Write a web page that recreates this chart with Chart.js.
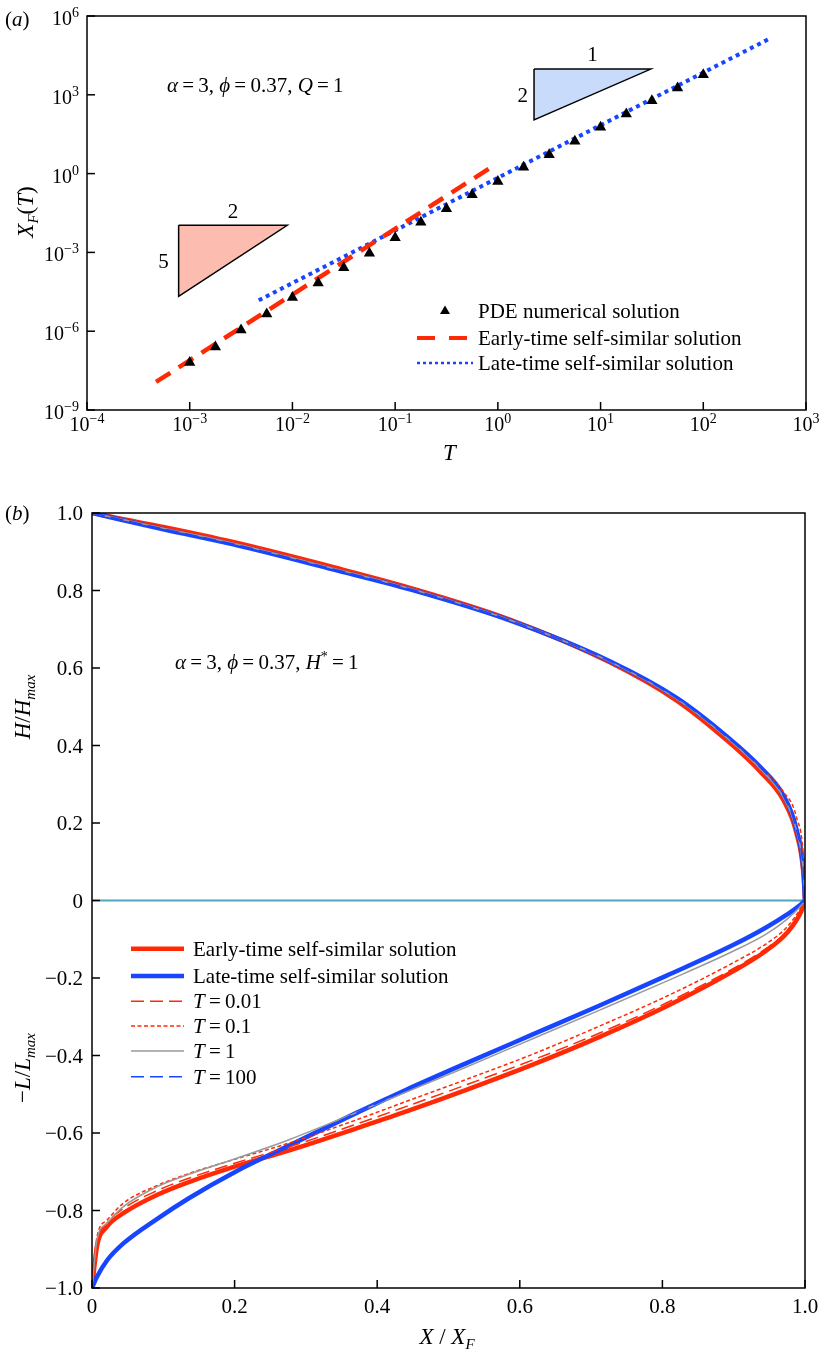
<!DOCTYPE html>
<html>
<head>
<meta charset="utf-8">
<script src="https://cdn.jsdelivr.net/npm/chart.js@4.4.1/dist/chart.umd.min.js"></script>
<style>
  html, body { margin: 0; padding: 0; background: #fff; }
  #wrap { position: relative; width: 819px; height: 1352px; }
  canvas { position: absolute; left: 0; }
  #ca { top: 0; width: 819px; height: 470px; }
  #cb { top: 470px; width: 819px; height: 882px; }
</style>
</head>
<body>
<div id="wrap">
  <canvas id="ca" width="819" height="470"></canvas>
  <canvas id="cb" width="819" height="882"></canvas>
</div>
<script>
// ---- panel (a) data: front position X_F against time T ----
const pdeT = [1e-3, 1.78e-3, 3.16e-3, 5.62e-3, 1e-2, 1.78e-2, 3.16e-2, 5.62e-2, 0.1, 0.178, 0.316,
  0.562, 1, 1.78, 3.16, 5.62, 10, 17.8, 31.6, 56.2, 100];
const pdeXF = [6.5e-8, 2.5e-7, 1.1e-6, 4.5e-6, 1.9e-5, 6.9e-5, 2.6e-4, 9.3e-4, 3.6e-3, 1.4e-2, 4.6e-2,
  0.155, 0.5, 1.74, 5.2, 17, 58, 186, 590, 1820, 5750];
const earlyT = [4.7e-4, 0.85];
const earlyXF = [1.17e-8, 1.69];
const lateT = [4.7e-3, 430];
const lateXF = [1.5e-5, 1.3e5];
// slope triangles (corners in data units)
const slopeRedT = [7.8e-4, 8.9e-3, 7.8e-4, 7.8e-4];
const slopeRedXF = [1.07e-2, 1.07e-2, 2.1e-5, 1.07e-2];
const slopeBlueT = [2.25, 30.8, 2.25, 2.25];
const slopeBlueXF = [9.5e3, 9.5e3, 110, 9.5e3];
const aTickExpX = [-4, -3, -2, -1, 0, 1, 2, 3];
const aTickExpY = [-9, -6, -3, 0, 3, 6];

// ---- panel (b) data: profiles H/Hmax (upper) and -L/Lmax (lower) ----
const upX = [0, 0.1, 0.198, 0.339, 0.446, 0.586, 0.727, 0.82, 0.89, 0.937, 0.97, 0.988, 0.998, 1];
const upEarly = [1, 0.964, 0.925, 0.86, 0.807, 0.725, 0.614, 0.516, 0.414, 0.333, 0.258, 0.174, 0.066, 0];
const upLate = [1, 0.958, 0.919, 0.854, 0.803, 0.723, 0.617, 0.523, 0.424, 0.345, 0.27, 0.184, 0.073, 0];
const upT001 = [1, 0.962, 0.923, 0.858, 0.806, 0.724, 0.615, 0.518, 0.416, 0.336, 0.262, 0.177, 0.068, 0];
const upT01 = [1, 0.961, 0.922, 0.857, 0.805, 0.724, 0.615, 0.519, 0.42, 0.343, 0.28, 0.215, 0.1, 0];
const upT1 = [1, 0.961, 0.922, 0.857, 0.805, 0.724, 0.616, 0.52, 0.42, 0.34, 0.265, 0.18, 0.07, 0];
const upT100 = [1, 0.959, 0.92, 0.855, 0.804, 0.723, 0.617, 0.522, 0.423, 0.344, 0.269, 0.183, 0.072, 0];

const lowX = [0, 0.007, 0.021, 0.044, 0.091, 0.137, 0.2, 0.278, 0.371, 0.44, 0.526, 0.619, 0.712, 0.806, 0.899, 0.946, 0.975, 0.995, 1];
const lowEarly = [-1, -0.893, -0.842, -0.807, -0.76, -0.726, -0.687, -0.644, -0.588, -0.545, -0.488, -0.423, -0.352, -0.273, -0.183, -0.129, -0.083, -0.027, 0];
const lowLate = [-1, -0.971, -0.929, -0.885, -0.822, -0.767, -0.701, -0.631, -0.548, -0.489, -0.419, -0.345, -0.271, -0.194, -0.115, -0.069, -0.036, -0.009, 0];
const lowT001 = [-1, -0.885, -0.833, -0.795, -0.749, -0.716, -0.678, -0.635, -0.577, -0.532, -0.475, -0.411, -0.342, -0.264, -0.176, -0.123, -0.078, -0.022, 0];
const lowT01 = [-1, -0.868, -0.825, -0.781, -0.736, -0.704, -0.668, -0.625, -0.566, -0.519, -0.461, -0.396, -0.324, -0.247, -0.161, -0.111, -0.068, -0.017, 0];
const lowT1 = [-1, -0.876, -0.833, -0.79, -0.739, -0.706, -0.667, -0.616, -0.547, -0.495, -0.429, -0.356, -0.283, -0.208, -0.131, -0.086, -0.048, -0.012, 0];
const lowT100 = [-1, -0.971, -0.929, -0.885, -0.822, -0.767, -0.701, -0.631, -0.548, -0.489, -0.419, -0.345, -0.271, -0.194, -0.115, -0.069, -0.036, -0.009, 0];
const zeroX = [0, 1];
const zeroY = [0, 0];
const bTickX = [0, 0.2, 0.4, 0.6, 0.8, 1.0];
const bTickY = [1.0, 0.8, 0.6, 0.4, 0.2, 0, -0.2, -0.4, -0.6, -0.8, -1.0];

const RED = "#ff2a05";
const BLUE = "#1846ff";
const GREY = "#9a9a9a";
const SERIF = '"Liberation Serif", "DejaVu Serif", serif';
const R = (s) => `${s}px ${SERIF}`;
const I = (s) => `italic ${s}px ${SERIF}`;
const EQ = "\u2009=\u2009";

const zip = (xs, ys) => xs.map((x, i) => ({ x, y: ys[i] }));

// draw a row of text pieces [text, font, dy]
function runs(ctx, parts, x, y, align) {
  let w = 0;
  parts.forEach((p) => { ctx.font = p[1]; w += ctx.measureText(p[0]).width; });
  let cx = align === "center" ? x - w / 2 : align === "right" ? x - w : x;
  ctx.textAlign = "left";
  ctx.textBaseline = "alphabetic";
  parts.forEach((p) => {
    ctx.font = p[1];
    ctx.fillText(p[0], cx, y + (p[2] || 0));
    cx += ctx.measureText(p[0]).width;
  });
}

function vruns(ctx, parts, x, y) {
  ctx.save();
  ctx.translate(x, y);
  ctx.rotate(-Math.PI / 2);
  runs(ctx, parts, 0, 0, "center");
  ctx.restore();
}

function seg(ctx, x1, y1, x2, y2) {
  ctx.beginPath();
  ctx.moveTo(x1, y1);
  ctx.lineTo(x2, y2);
  ctx.stroke();
}

const pow10 = (e) => [["10", R(20)], [e < 0 ? "\u2212" + Math.abs(e) : String(e), R(14), -8]];
const dec = (v) => (v === 0 ? "0" : (v < 0 ? "\u2212" : "") + Math.abs(v).toFixed(1));

const frameA = {
  id: "frameA",
  afterDraw(chart) {
    const { ctx, chartArea: ca, scales } = chart;
    const x = scales.x, y = scales.y;
    ctx.save();
    ctx.fillStyle = "#000";
    ctx.strokeStyle = "#000";
    ctx.lineWidth = 1.5;
    ctx.strokeRect(ca.left, ca.top, ca.right - ca.left, ca.bottom - ca.top);
    aTickExpX.forEach((e) => {
      const px = x.getPixelForValue(Math.pow(10, e));
      seg(ctx, px, ca.bottom, px, ca.bottom - 8);
      runs(ctx, pow10(e), px, ca.bottom + 21, "center");
    });
    aTickExpY.forEach((e) => {
      const py = y.getPixelForValue(Math.pow(10, e));
      seg(ctx, ca.left, py, ca.left + 8, py);
      runs(ctx, pow10(e), ca.left - 8, py + 9, "right");
    });

    // slope triangle labels
    const rx = x.getPixelForValue(Math.sqrt(slopeRedT[0] * slopeRedT[1]));
    const ry = y.getPixelForValue(slopeRedXF[0]);
    runs(ctx, [["2", R(21)]], rx, ry - 7, "center");
    const rl = x.getPixelForValue(slopeRedT[0]);
    const rm = y.getPixelForValue(Math.sqrt(slopeRedXF[0] * slopeRedXF[2]));
    runs(ctx, [["5", R(21)]], rl - 10, rm + 7, "right");
    const bx = x.getPixelForValue(Math.sqrt(slopeBlueT[0] * slopeBlueT[1]));
    const by = y.getPixelForValue(slopeBlueXF[0]);
    runs(ctx, [["1", R(21)]], bx, by - 8, "center");
    const bl = x.getPixelForValue(slopeBlueT[0]);
    const bm = y.getPixelForValue(Math.sqrt(slopeBlueXF[0] * slopeBlueXF[2]));
    runs(ctx, [["2", R(21)]], bl - 6, bm + 7, "right");

    runs(ctx, [["\u03b1", I(21)], [EQ + "3, ", R(21)], ["\u03d5", I(21)], [EQ + "0.37, ", R(21)],
      ["Q", I(21)], [EQ + "1", R(21)]], 167, 92, "left");

    // legend
    ctx.beginPath();
    ctx.moveTo(445, 305.5);
    ctx.lineTo(450, 314);
    ctx.lineTo(440, 314);
    ctx.closePath();
    ctx.fill();
    runs(ctx, [["PDE numerical solution", R(21)]], 478, 318, "left");
    ctx.lineWidth = 4;
    ctx.strokeStyle = RED;
    ctx.setLineDash([18, 14]);
    seg(ctx, 417, 338, 467, 338);
    runs(ctx, [["Early-time self-similar solution", R(21)]], 478, 345, "left");
    ctx.strokeStyle = BLUE;
    ctx.lineWidth = 2.5;
    ctx.setLineDash([3, 3]);
    seg(ctx, 417, 363, 473, 363);
    ctx.setLineDash([]);
    runs(ctx, [["Late-time self-similar solution", R(21)]], 478, 370, "left");

    runs(ctx, [["(", R(21)], ["a", I(21)], [")", R(21)]], 5, 26, "left");
    runs(ctx, [["T", I(23)]], (ca.left + ca.right) / 2 + 3, 460, "center");
    vruns(ctx, [["X", I(23)], ["F", I(15), 5], ["(", R(23)], ["T", I(23)], [")", R(23)]], 33, 212);
    ctx.restore();
  }
};

new Chart(document.getElementById("ca"), {
  type: "line",
  data: {
    datasets: [
      {
        data: zip(pdeT, pdeXF), showLine: false, pointStyle: "triangle", pointRadius: 6.5,
        backgroundColor: "#000", borderColor: "#000", pointBorderWidth: 0, order: 1
      },
      {
        data: zip(earlyT, earlyXF), borderColor: RED, borderWidth: 4.5, borderDash: [17, 10],
        pointRadius: 0, order: 2
      },
      {
        data: zip(lateT, lateXF), borderColor: BLUE, borderWidth: 4, borderDash: [4, 4],
        pointRadius: 0, order: 3
      },
      {
        data: zip(slopeRedT, slopeRedXF), borderColor: "#000", borderWidth: 1.5,
        backgroundColor: "#fdbcb0", fill: "shape", pointRadius: 0, order: 5
      },
      {
        data: zip(slopeBlueT, slopeBlueXF), borderColor: "#000", borderWidth: 1.5,
        backgroundColor: "#c8dbfb", fill: "shape", pointRadius: 0, order: 5
      }
    ]
  },
  options: {
    responsive: false,
    animation: false,
    events: [],
    layout: { padding: { left: 87, top: 16, right: 13, bottom: 60 } },
    plugins: { legend: { display: false }, tooltip: { enabled: false } },
    scales: {
      x: { type: "logarithmic", min: 1e-4, max: 1e3, display: false },
      y: { type: "logarithmic", min: 1e-9, max: 1e6, display: false }
    }
  },
  plugins: [frameA]
});

const frameB = {
  id: "frameB",
  afterDraw(chart) {
    const { ctx, chartArea: ca, scales } = chart;
    const x = scales.x, y = scales.y;
    ctx.save();
    ctx.fillStyle = "#000";
    ctx.strokeStyle = "#000";
    ctx.lineWidth = 1.5;
    ctx.strokeRect(ca.left, ca.top, ca.right - ca.left, ca.bottom - ca.top);
    bTickX.forEach((v) => {
      const px = x.getPixelForValue(v);
      seg(ctx, px, ca.bottom, px, ca.bottom - 8);
      runs(ctx, [[dec(v), R(21)]], px, ca.bottom + 25, "center");
    });
    bTickY.forEach((v) => {
      const py = y.getPixelForValue(v);
      seg(ctx, ca.left, py, ca.left + 8, py);
      runs(ctx, [[dec(v), R(21)]], ca.left - 9, py + 7, "right");
    });

    runs(ctx, [["\u03b1", I(21)], [EQ + "3, ", R(21)], ["\u03d5", I(21)], [EQ + "0.37, ", R(21)],
      ["H", I(21)], ["*", R(14), -8], [EQ + "1", R(21)]], 175, 199, "left");

    // legend
    const rows = [
      [RED, 4.5, [], [["Early-time self-similar solution", R(21)]]],
      [BLUE, 4.5, [], [["Late-time self-similar solution", R(21)]]],
      [RED, 1.5, [13, 6], [["T", I(21)], [EQ + "0.01", R(21)]]],
      [RED, 1.5, [4, 2.5], [["T", I(21)], [EQ + "0.1", R(21)]]],
      [GREY, 1.5, [], [["T", I(21)], [EQ + "1", R(21)]]],
      [BLUE, 1.5, [13, 6], [["T", I(21)], [EQ + "100", R(21)]]]
    ];
    const rowY = [478.7, 506, 531.3, 556, 581, 606.7];
    rows.forEach((r, i) => {
      ctx.strokeStyle = r[0];
      ctx.lineWidth = r[1];
      ctx.setLineDash(r[2]);
      seg(ctx, 131, rowY[i], 184, rowY[i]);
      ctx.setLineDash([]);
      runs(ctx, r[3], 193, rowY[i] + 7, "left");
    });

    runs(ctx, [["(", R(21)], ["b", I(21)], [")", R(21)]], 5, 50, "left");
    runs(ctx, [["X", I(23)], [" / ", R(23)], ["X", I(23)], ["F", I(15), 5]], 447, 874, "center");
    vruns(ctx, [["H", I(23)], ["/", R(23)], ["H", I(23)], ["max", I(15), 5]], 30, 237);
    vruns(ctx, [["\u2212", R(23)], ["L", I(23)], ["/", R(23)], ["L", I(23)], ["max", I(15), 5]], 30, 598);
    ctx.restore();
  }
};

function curve(xs, ys, color, width, dash, order) {
  return {
    data: zip(xs, ys), borderColor: color, borderWidth: width, borderDash: dash,
    pointRadius: 0, cubicInterpolationMode: "monotone", fill: false, order
  };
}

new Chart(document.getElementById("cb"), {
  type: "line",
  data: {
    datasets: [
      { data: zip(zeroX, zeroY), borderColor: "#4fa6bd", borderWidth: 2, pointRadius: 0, order: 20 },
      curve(upX, upEarly, RED, 4.5, [], 12),
      curve(lowX, lowEarly, RED, 4.5, [], 12),
      curve(upX, upLate, BLUE, 4.5, [], 11),
      curve(lowX, lowLate, BLUE, 4.5, [], 11),
      curve(upX, upT001, RED, 1.5, [13, 6], 10),
      curve(lowX, lowT001, RED, 1.5, [13, 6], 10),
      curve(upX, upT01, RED, 1.5, [4, 2.5], 9),
      curve(lowX, lowT01, RED, 1.5, [4, 2.5], 9),
      curve(upX, upT1, GREY, 1.5, [], 8),
      curve(lowX, lowT1, GREY, 1.5, [], 8),
      curve(upX, upT100, BLUE, 1.5, [13, 6], 7),
      curve(lowX, lowT100, BLUE, 1.5, [13, 6], 7)
    ]
  },
  options: {
    responsive: false,
    animation: false,
    events: [],
    layout: { padding: { left: 92, top: 43, right: 14, bottom: 64 } },
    plugins: { legend: { display: false }, tooltip: { enabled: false } },
    scales: {
      x: { type: "linear", min: 0, max: 1, display: false },
      y: { type: "linear", min: -1, max: 1, display: false }
    }
  },
  plugins: [frameB]
});
</script>
</body>
</html>
